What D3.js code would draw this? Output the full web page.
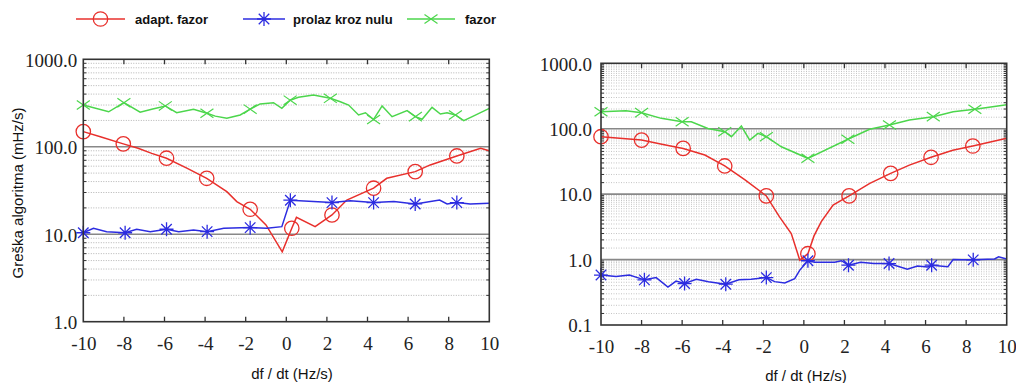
<!DOCTYPE html>
<html><head><meta charset="utf-8">
<script src="https://cdn.jsdelivr.net/npm/d3@7"></script>
<style>body{margin:0;background:#fff}svg{display:block}</style>
</head><body>
<svg id="c" width="1016" height="383"></svg>
<script>
// ---- data ----
const xTicks = [-10,-8,-6,-4,-2,0,2,4,6,8,10];
const yTicksLeft = [1,10,100,1000];
const yTicksRight = [0.1,1,10,100,1000];
const seriesNames = ["adapt. fazor","prolaz kroz nulu","fazor"];
const xTitle = "df / dt (Hz/s)";
const yTitle = "Greška algoritma (mHz/s)";

// left panel
const redLineL = [[-10,149],[-9.16,130],[-8.03,108],[-7.3,96],[-6.63,84],[-5.9,74],[-4.9,57],[-3.92,43.6],[-2.93,30.7],[-2.44,23.6],[-1.78,19.3],[-1.0,12.8],[-0.2,6.3],[0.27,11.7],[0.5,15.6],[1.42,12.2],[2.25,16.6],[2.98,24.6],[4.3,33.6],[4.95,43.6],[6.35,52],[7.09,62],[8.4,78.5],[9.57,96],[10,90]];
const redMarkL = [[-10,149],[-8.03,108],[-5.9,74],[-3.92,43.6],[-1.78,19.3],[0.27,11.7],[2.25,16.6],[4.3,33.6],[6.35,52],[8.4,78.5]];
const blueLineL = [[-10,10.4],[-9.5,11.7],[-8.85,10.7],[-7.94,10.4],[-7.37,11.4],[-6.7,10.7],[-5.9,11.4],[-5.3,10.7],[-4.57,11.2],[-3.9,10.7],[-3.08,11.7],[-1.78,11.9],[-0.96,11.7],[-0.22,12.2],[0.2,24.5],[2.25,23],[3.15,24.2],[4.3,23],[5.3,23.6],[6.35,22.2],[7.55,24.6],[7.92,22.2],[8.4,23],[9.06,22.2],[10,22.6]];
const blueMarkL = [[-10,10.4],[-7.94,10.4],[-5.9,11.4],[-3.9,10.7],[-1.78,11.9],[0.2,24.5],[2.25,23],[4.3,23],[6.35,22.2],[8.4,23]];
const greenLineL = [[-10,300],[-8.75,251],[-8.0,319],[-7.2,248],[-6.63,269],[-5.96,293],[-5.4,245],[-4.57,269],[-3.91,242],[-3.5,224],[-2.93,212],[-2.27,231],[-1.78,269],[-1.29,309],[-0.63,319],[-0.22,275],[0.19,341],[0.6,368],[1.34,391],[2.17,358],[2.66,327],[3.07,300],[3.56,231],[3.9,245],[4.3,205],[4.72,293],[5.21,221],[5.95,259],[6.36,221],[6.69,206],[7.18,282],[7.59,237],[7.92,245],[8.33,231],[8.74,199],[9.16,221],[10,275]];
const greenMarkL = [[-10,300],[-8.0,319],[-5.96,293],[-3.91,242],[-1.78,269],[0.19,341],[2.17,358],[4.3,205],[6.36,221],[8.33,231]];

// right panel
const redLineR = [[-10,75.5],[-8,67],[-7,58],[-5.95,50],[-4.88,39.6],[-3.9,27],[-2.9,16.5],[-1.85,9.4],[-1.2,4.5],[-0.62,2.5],[-0.2,0.98],[0.2,1.23],[0.5,2.3],[0.86,3.8],[1.44,6.8],[2.23,9.4],[3.25,14.6],[4.28,20.8],[5.2,27.8],[6.27,36.6],[7.34,47],[8.33,54.4],[10,71.3]];
const redMarkR = [[-10,75.5],[-8,67],[-5.95,50],[-3.9,27],[-1.85,9.4],[0.2,1.23],[2.23,9.4],[4.28,20.8],[6.27,36.6],[8.33,54.4]];
const blueLineR = [[-10,0.58],[-9.26,0.55],[-8.6,0.58],[-7.86,0.49],[-7.28,0.53],[-6.7,0.38],[-6.3,0.47],[-5.88,0.43],[-5.3,0.50],[-4.7,0.46],[-3.85,0.42],[-3.2,0.49],[-2.6,0.50],[-1.85,0.53],[-1.44,0.46],[-0.94,0.44],[-0.45,0.51],[-0.2,0.69],[0.2,0.96],[0.53,0.91],[1.52,0.91],[1.85,0.96],[2.2,0.82],[2.8,0.91],[3.45,0.87],[4.2,0.87],[5.1,0.71],[5.6,0.8],[6.1,0.77],[6.3,0.82],[7.1,0.78],[7.36,1.0],[7.77,0.99],[8.35,0.99],[9.4,1.02],[9.6,1.1],[10,1.02]];
const blueMarkR = [[-10,0.58],[-7.86,0.49],[-5.88,0.43],[-3.85,0.42],[-1.85,0.53],[0.2,0.96],[2.2,0.82],[4.2,0.87],[6.3,0.82],[8.35,0.99]];
const greenLineR = [[-10,182],[-8.77,188],[-8.0,176],[-7.03,144],[-6.0,128],[-5.55,128],[-4.73,101],[-3.9,90],[-3.57,75.5],[-3.08,110],[-2.67,67],[-2.26,85],[-1.85,75.5],[-1.11,53],[0.2,35.3],[2.17,69],[3.24,98],[4.22,114],[5.2,136],[6.38,153],[7.36,182],[8.43,198],[10,232]];
const greenMarkR = [[-10,182],[-8,176],[-6,128],[-3.9,90],[-1.85,75.5],[0.2,35.3],[2.17,69],[4.22,114],[6.38,153],[8.43,198]];

// ---- styles ----
const RED="#e8302c", BLUE="#2c2ce0", GREEN="#4cd64c";
const SERIF="'Liberation Serif','Times New Roman',Times,'DejaVu Serif',serif";
const TICKFS = 19;
const svg = d3.select("#c");

function minorVals(lo, hi, steps){
  const out=[];
  for(let d=lo; d<hi; d*=10){ for(const k of steps){ out.push(+(k*d).toPrecision(6)); } }
  return out;
}

function marker(g, type, x, y, color, r){
  if(type==="circle"){
    g.append("circle").attr("cx",x).attr("cy",y).attr("r",r).attr("fill","none").attr("stroke",color).attr("stroke-width",1.3);
  } else if(type==="star"){
    const s=r, d=r*0.75;
    const p=`M${x},${y-s}L${x},${y+s}M${x-s},${y}L${x+s},${y}M${x-d},${y-d}L${x+d},${y+d}M${x-d},${y+d}L${x+d},${y-d}`;
    g.append("path").attr("d",p).attr("stroke",color).attr("stroke-width",1.3).attr("fill","none");
  } else {
    const s=r;
    g.append("path").attr("d",`M${x-s},${y-s*0.7}L${x+s},${y+s*0.7}M${x-s},${y+s*0.7}L${x+s},${y-s*0.7}`).attr("stroke",color).attr("stroke-width",1.2).attr("fill","none");
  }
}

function panel(cfg){
  const x = d3.scaleLinear().domain([-10,10]).range([cfg.x0,cfg.x1]);
  const y = d3.scaleLog().domain([cfg.ymin,1000]).range([cfg.y1,cfg.y0]);
  const g = svg.append("g");
  const minors = minorVals(cfg.ymin,1000,cfg.minorSteps);
  g.selectAll(".mg").data(minors).join("line")
    .attr("x1",cfg.x0).attr("x2",cfg.x1).attr("y1",d=>y(d)).attr("y2",d=>y(d))
    .attr("stroke",cfg.minorCol).attr("stroke-width",1).attr("stroke-dasharray","1,1.5");
  g.selectAll(".Mg").data(cfg.yTicks.slice(1,-1)).join("line")
    .attr("x1",cfg.x0).attr("x2",cfg.x1).attr("y1",d=>y(d)).attr("y2",d=>y(d))
    .attr("stroke","#888").attr("stroke-width",1.6);
  const fmt = d3.format(".1f");
  const ax = g.append("g").attr("transform",`translate(${cfg.x0},0)`)
    .call(d3.axisLeft(y).tickValues(cfg.yTicks).tickFormat(fmt).tickSize(0).tickPadding(cfg.ypad));
  ax.attr("font-family",SERIF).attr("font-size",TICKFS);
  ax.select(".domain").remove();
  ax.selectAll("text").style("font-family",SERIF).style("font-size",TICKFS+"px").attr("fill","#222").attr("dy","0.36em");
  const bx = g.append("g").attr("transform",`translate(0,${cfg.y1})`)
    .call(d3.axisBottom(x).tickValues(xTicks).tickFormat(d=>String(d)).tickSize(0).tickPadding(cfg.xpad));
  bx.attr("font-family",SERIF).attr("font-size",TICKFS);
  bx.select(".domain").remove();
  bx.selectAll("text").style("font-family",SERIF).style("font-size",TICKFS+"px").attr("fill","#222");
  const tk = g.append("g").attr("stroke","#333").attr("stroke-width",1.3);
  xTicks.slice(1,-1).forEach(v=>{
    tk.append("line").attr("x1",x(v)).attr("x2",x(v)).attr("y1",cfg.y0).attr("y2",cfg.y0+5);
    tk.append("line").attr("x1",x(v)).attr("x2",x(v)).attr("y1",cfg.y1).attr("y2",cfg.y1-5);
  });
  minors.forEach(v=>{
    tk.append("line").attr("x1",cfg.x1).attr("x2",cfg.x1-3).attr("y1",y(v)).attr("y2",y(v)).attr("stroke-width",1);
    tk.append("line").attr("x1",cfg.x0).attr("x2",cfg.x0+3).attr("y1",y(v)).attr("y2",y(v)).attr("stroke-width",1);
  });
  const line = d3.line().x(d=>x(d[0])).y(d=>y(d[1]));
  const ser = [
    [cfg.green, cfg.greenM, GREEN, "x"],
    [cfg.red, cfg.redM, RED, "circle"],
    [cfg.blue, cfg.blueM, BLUE, "star"]
  ];
  const clip = "clip"+cfg.id;
  svg.append("clipPath").attr("id",clip).append("rect").attr("x",cfg.x0).attr("y",cfg.y0).attr("width",cfg.x1-cfg.x0).attr("height",cfg.y1-cfg.y0);
  ser.forEach(([pts,mk,col,type])=>{
    g.append("path").datum(pts).attr("d",line).attr("fill","none").attr("stroke",col).attr("stroke-width",1.5).attr("clip-path",`url(#${clip})`);
    mk.forEach(p=>marker(g,type,x(p[0]),y(p[1]),col,type==="circle"?7.2:(type==="star"?7:6.5)));
  });
  g.append("rect").attr("x",cfg.x0).attr("y",cfg.y0).attr("width",cfg.x1-cfg.x0).attr("height",cfg.y1-cfg.y0)
    .attr("fill","none").attr("stroke","#333").attr("stroke-width",1.6);
  g.append("text").attr("x",cfg.titleX).attr("y",cfg.titleY).attr("text-anchor","middle")
    .attr("font-family","Liberation Sans").attr("font-size",15).attr("fill","#111").text(xTitle);
}

panel({id:"L",x0:83.3,x1:489.3,y0:59.3,y1:321.7,ymin:1,yTicks:yTicksLeft,minorSteps:[2,3,4,5,6,7,8,9],ypad:6,xpad:15,minorCol:"#b4b4b4",
  titleX:292,titleY:379,red:redLineL,redM:redMarkL,blue:blueLineL,blueM:blueMarkL,green:greenLineL,greenM:greenMarkL});
panel({id:"R",x0:601,x1:1006.7,y0:63.3,y1:325,ymin:0.1,yTicks:yTicksRight,minorSteps:[1.5,2,2.5,3,3.5,4,4.5,5,5.5,6,6.5,7,7.5,8,8.5,9,9.5],ypad:9,xpad:15,minorCol:"#c4c4c4",
  titleX:806,titleY:381,red:redLineR,redM:redMarkR,blue:blueLineR,blueM:blueMarkR,green:greenLineR,greenM:greenMarkR});

svg.append("text").attr("transform","translate(23,193) rotate(-90)").attr("text-anchor","middle")
  .attr("font-family","Liberation Sans").attr("font-size",15).attr("fill","#111").text(yTitle);

const leg = svg.append("g");
const legItems = [
  {name:seriesNames[0], col:RED, type:"circle", x0:76, x1:125, tx:135},
  {name:seriesNames[1], col:BLUE, type:"star", x0:243, x1:285, tx:293},
  {name:seriesNames[2], col:GREEN, type:"x", x0:407, x1:455, tx:465}
];
legItems.forEach(it=>{
  leg.append("line").attr("x1",it.x0).attr("x2",it.x1).attr("y1",19).attr("y2",19).attr("stroke",it.col).attr("stroke-width",1.6);
  marker(leg,it.type,(it.x0+it.x1)/2,19,it.col,it.type==="circle"?7.2:(it.type==="star"?7:6.5));
  leg.append("text").attr("x",it.tx).attr("y",23.5).attr("font-family","Liberation Sans").attr("font-weight","bold")
    .attr("font-size",13).attr("fill","#111").text(it.name);
});
</script>
</body></html>
